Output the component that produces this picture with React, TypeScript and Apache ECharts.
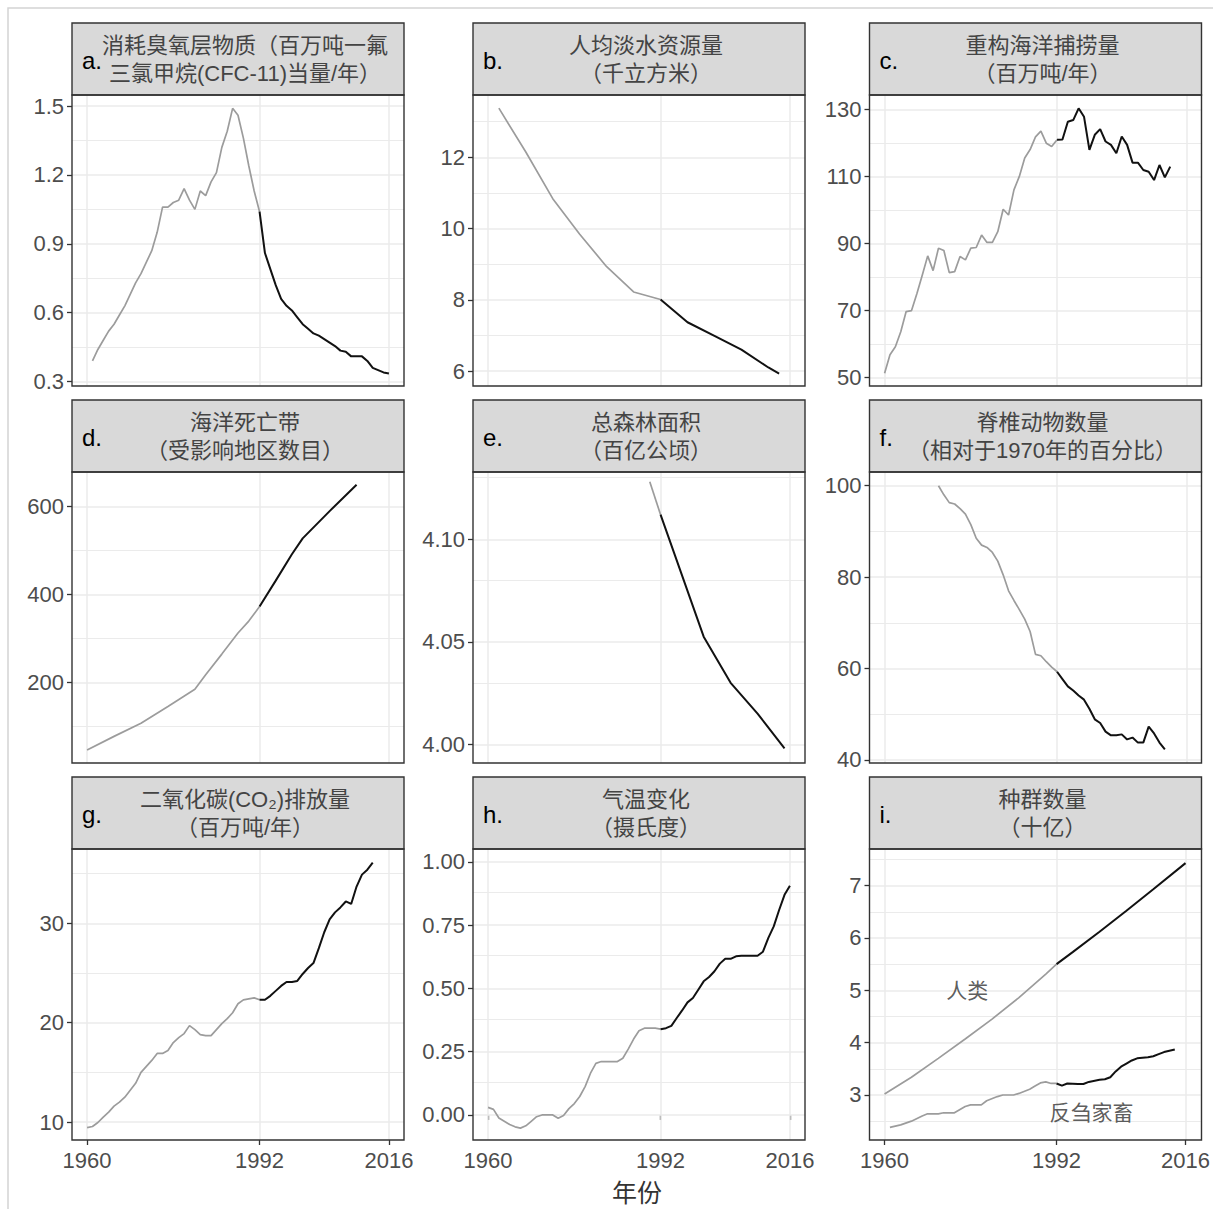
import React, { useEffect, useRef } from "react";
import * as echarts from "echarts";

const yearsFrom = (start: number, count: number): number[] =>
  Array.from({ length: count }, (_, i) => start + i);

// ---------------- data ----------------
// a. ozone depleting substances
const ozoneYears = yearsFrom(1961, 56);
const ozoneValues = [
  0.39, 0.44, 0.48, 0.52, 0.55, 0.59, 0.63, 0.68, 0.73, 0.77,
  0.82, 0.87, 0.95, 1.06, 1.06, 1.08, 1.09, 1.14, 1.09, 1.05,
  1.13, 1.11, 1.17, 1.21, 1.32, 1.39, 1.49, 1.46, 1.36, 1.24,
  1.13, 1.04, 0.86, 0.79, 0.72, 0.66, 0.63, 0.61, 0.58, 0.55,
  0.53, 0.51, 0.5, 0.485, 0.47, 0.455, 0.435, 0.43, 0.41, 0.41,
  0.41, 0.39, 0.36, 0.35, 0.34, 0.335,
];
// b. freshwater per capita
const waterYears = [1962, 1967, 1972, 1977, 1982, 1987, 1992, 1997, 2002, 2007, 2012, 2014];
const waterValues = [13.38, 12.15, 10.84, 9.84, 8.93, 8.22, 8.01, 7.37, 6.99, 6.6, 6.1, 5.93];
// c. reconstructed marine catch
const catchYears = yearsFrom(1960, 54);
const catchValues = [
  51.3, 56.8, 59.2, 63.7, 69.7, 70, 75.1, 80.6, 86.3, 81.9,
  88.6, 87.9, 81.3, 81.6, 86.1, 85.1, 88.6, 88.8, 92.5, 90.3,
  90.3, 93.5, 100.2, 98.5, 106, 110, 115.5, 118, 121.8, 123.5,
  119.9, 118.9, 120.9, 121, 126.3, 126.8, 130.3, 127.8, 117.9, 122.4,
  124.1, 120.4, 119.4, 116.9, 121.9, 119.4, 114.1, 114.1, 111.9, 111.4,
  108.9, 113.4, 109.7, 112.9,
];
// d. ocean dead zones
const deadYears = [1960, 1965, 1970, 1975, 1980, 1982, 1985, 1988, 1990, 1992, 1995, 1998, 2000, 2005, 2010];
const deadValues = [47, 78, 108, 146, 185, 218, 265, 313, 340, 373, 432, 492, 528, 590, 650];
// e. total forest area
const forestYears = [1990, 1992, 2000, 2005, 2010, 2015];
const forestValues = [4.128, 4.112, 4.0525, 4.03, 4.015, 3.998];
// f. vertebrate abundance
const vertYears = yearsFrom(1970, 43);
const vertValues = [
  100, 98, 96.3, 96, 95, 93.8, 91.5, 88.5, 87, 86.5,
  85.4, 83.5, 80.5, 77, 74.9, 72.9, 70.8, 68.1, 63.1, 62.8,
  61.5, 60.3, 59.3, 57.7, 56.1, 55.2, 54.1, 53.2, 51.2, 48.9,
  48.1, 46.2, 45.4, 45.4, 45.6, 44.5, 44.9, 43.8, 43.8, 47.3,
  45.8, 43.8, 42.3,
];
// g. CO2 emissions
const co2Years = yearsFrom(1960, 54);
const co2Values = [
  9.43, 9.55, 9.95, 10.5, 11.0, 11.6, 12.0, 12.5, 13.2, 13.9,
  15.0, 15.6, 16.2, 16.9, 16.9, 17.2, 18.0, 18.5, 18.9, 19.7,
  19.3, 18.8, 18.7, 18.7, 19.3, 19.9, 20.4, 21.0, 21.9, 22.3,
  22.4, 22.5, 22.3, 22.3, 22.7, 23.2, 23.7, 24.1, 24.1, 24.2,
  24.9, 25.5, 26.0, 27.5, 29.1, 30.4, 31.1, 31.6, 32.2, 31.95,
  33.7, 34.9, 35.4, 36.1,
];
// h. temperature change
const tempYears = yearsFrom(1960, 57);
const tempValues = [
  0.03, 0.022, -0.012, -0.025, -0.038, -0.047, -0.052, -0.043, -0.025, -0.007,
  0.0, 0.0, 0.0, -0.013, -0.002, 0.025, 0.045, 0.073, 0.112, 0.165,
  0.204, 0.211, 0.211, 0.211, 0.211, 0.224, 0.26, 0.3, 0.333, 0.343,
  0.343, 0.343, 0.339, 0.343, 0.352, 0.383, 0.413, 0.445, 0.462, 0.495,
  0.528, 0.545, 0.568, 0.598, 0.617, 0.617, 0.627, 0.629, 0.629, 0.629,
  0.629, 0.645, 0.7, 0.745, 0.81, 0.87, 0.906,
];
// i. population (humans, ruminant livestock)
const humanYears = [1960, 1965, 1970, 1975, 1980, 1985, 1990, 1992, 1995, 2000, 2005, 2010, 2016];
const humanValues = [3.02, 3.34, 3.7, 4.07, 4.45, 4.86, 5.31, 5.5, 5.73, 6.12, 6.52, 6.93, 7.43];
const livestockYears = [
  1961, 1963, 1965, 1967, 1968, 1970, 1971, 1973, 1975, 1976,
  1978, 1979, 1981, 1982, 1984, 1985, 1987, 1988, 1989, 1990,
  1991, 1992, 1993, 1994, 1996, 1997, 1998, 2000, 2001, 2002,
  2003, 2004, 2005, 2006, 2007, 2009, 2010, 2011, 2012, 2014,
];
const livestockValues = [
  2.38, 2.43, 2.5, 2.6, 2.64, 2.64, 2.66, 2.66, 2.78, 2.81,
  2.81, 2.89, 2.97, 3.0, 3.0, 3.03, 3.11, 3.17, 3.23, 3.25,
  3.22, 3.22, 3.18, 3.22, 3.21, 3.21, 3.25, 3.29, 3.3, 3.34,
  3.45, 3.54, 3.6, 3.66, 3.7, 3.72, 3.74, 3.78, 3.82, 3.87,
];
const popLabelTexts = ["人类", "反刍家畜"];
const popLabelX = [1975.4, 1998.5];
const popLabelY = [5.0, 2.66];

// ---------------- panel text & ticks ----------------
const panelLetters = ["a.", "b.", "c.", "d.", "e.", "f.", "g.", "h.", "i."];
const titleLine1 = [
  "消耗臭氧层物质（百万吨一氟",
  "人均淡水资源量",
  "重构海洋捕捞量",
  "海洋死亡带",
  "总森林面积",
  "脊椎动物数量",
  "二氧化碳(CO₂)排放量",
  "气温变化",
  "种群数量",
];
const titleLine2 = [
  "三氯甲烷(CFC-11)当量/年）",
  "（千立方米）",
  "（百万吨/年）",
  "（受影响地区数目）",
  "（百亿公顷）",
  "（相对于1970年的百分比）",
  "（百万吨/年）",
  "（摄氏度）",
  "（十亿）",
];
const xAxisTitle = "年份";
const xTicks = [1960, 1992, 2016];
const xLimits = [1957.2, 2018.8];
const breakYear = 1992;
const yTicks = [
  [0.3, 0.6, 0.9, 1.2, 1.5],
  [6, 8, 10, 12],
  [50, 70, 90, 110, 130],
  [200, 400, 600],
  [4.0, 4.05, 4.1],
  [40, 60, 80, 100],
  [10, 20, 30],
  [0, 0.25, 0.5, 0.75, 1.0],
  [3, 4, 5, 6, 7],
];
const yMinor = [
  [0.45, 0.75, 1.05, 1.35],
  [7, 9, 11, 13],
  [60, 80, 100, 120],
  [100, 300, 500],
  [4.025, 4.075, 4.125],
  [50, 70, 90],
  [15, 25, 35],
  [0.125, 0.375, 0.625, 0.875],
  [2.5, 3.5, 4.5, 5.5, 6.5, 7.5],
];
const yDecimals = [1, 0, 0, 0, 2, 0, 0, 2, 0];
const yLimits = [
  [0.281, 1.548],
  [5.58, 13.75],
  [47.5, 134.27],
  [17.5, 678.9],
  [3.9909, 4.1328],
  [39.34, 103.0],
  [8.19, 37.48],
  [-0.099, 1.051],
  [2.14, 7.7],
];

const panelSeries: { years: number[]; values: number[] }[][] = [
  [{ years: ozoneYears, values: ozoneValues }],
  [{ years: waterYears, values: waterValues }],
  [{ years: catchYears, values: catchValues }],
  [{ years: deadYears, values: deadValues }],
  [{ years: forestYears, values: forestValues }],
  [{ years: vertYears, values: vertValues }],
  [{ years: co2Years, values: co2Values }],
  [{ years: tempYears, values: tempValues }],
  [
    { years: humanYears, values: humanValues },
    { years: livestockYears, values: livestockValues },
  ],
];

// ---------------- layout ----------------
const W = 1213;
const H = 1209;
const colLeft = [72, 473, 869.5];
const colWidth = 332;
const rowTop = [95, 472, 849];
const plotH = 291;
const stripH = 72;

const LATIN = "'Liberation Sans', Arial, sans-serif";
const CJK = "'Liberation Sans', 'Noto Sans CJK SC', sans-serif";
const GRAY = "#9c9c9c";
const BLACK = "#111111";
const GRID = "#ebebeb";
const DARK = "#333333";

function buildOption() {
  const grids: any[] = [];
  const xAxes: any[] = [];
  const yAxes: any[] = [];
  const series: any[] = [];
  const graphics: any[] = [];

  graphics.push({
    type: "rect",
    silent: true,
    z: 0,
    shape: { x: 8, y: 8, width: 1300, height: 1300 },
    style: { fill: "none", stroke: "#d4d4d4", lineWidth: 1.5 },
  });

  for (let k = 0; k < 9; k++) {
    const col = k % 3;
    const row = Math.floor(k / 3);
    const left = colLeft[col];
    const top = rowTop[row];
    const bottomRow = row === 2;
    const dec = yDecimals[k];

    grids.push({ left, top, width: colWidth, height: plotH, containLabel: false });

    xAxes.push({
      type: "value",
      gridIndex: k,
      min: xLimits[0],
      max: xLimits[1],
      axisLine: { show: false },
      splitLine: { show: false },
      axisTick: {
        show: bottomRow,
        customValues: xTicks,
        length: 5,
        lineStyle: { color: DARK, width: 1.3 },
      },
      axisLabel: {
        show: bottomRow,
        customValues: xTicks,
        margin: 9,
        fontSize: 22,
        color: "#4d4d4d",
        fontFamily: LATIN,
        formatter: (v: number) => String(Math.round(v)),
      },
    });

    yAxes.push({
      type: "value",
      gridIndex: k,
      min: yLimits[k][0],
      max: yLimits[k][1],
      axisLine: { show: false },
      splitLine: { show: false },
      axisTick: {
        show: true,
        customValues: yTicks[k],
        length: 5,
        lineStyle: { color: DARK, width: 1.3 },
      },
      axisLabel: {
        customValues: yTicks[k],
        margin: 8,
        fontSize: 22,
        color: "#4d4d4d",
        fontFamily: LATIN,
        formatter: (v: number) => v.toFixed(dec),
      },
    });

    // grid lines through the axis scales
    const gridLines: any[] = [];
    yMinor[k].forEach((v) => gridLines.push({ yAxis: v, lineStyle: { width: 1, color: GRID } }));
    yTicks[k].forEach((v) => gridLines.push({ yAxis: v, lineStyle: { width: 1.5, color: GRID } }));
    xTicks.forEach((v) => gridLines.push({ xAxis: v, lineStyle: { width: 1.5, color: GRID } }));
    series.push({
      type: "line",
      xAxisIndex: k,
      yAxisIndex: k,
      data: [],
      z: 1,
      silent: true,
      markLine: {
        silent: true,
        z: 1,
        symbol: ["none", "none"],
        label: { show: false },
        animation: false,
        lineStyle: { type: "solid", color: GRID },
        data: gridLines,
      },
    });

    panelSeries[k].forEach((s) => {
      const before: number[][] = [];
      const after: number[][] = [];
      s.years.forEach((y, i) => {
        if (y <= breakYear) before.push([y, s.values[i]]);
        if (y >= breakYear) after.push([y, s.values[i]]);
      });
      series.push({
        type: "line",
        xAxisIndex: k,
        yAxisIndex: k,
        data: before,
        showSymbol: false,
        symbol: "none",
        silent: true,
        z: 6,
        lineStyle: { color: GRAY, width: 1.7 },
        itemStyle: { color: GRAY },
      });
      series.push({
        type: "line",
        xAxisIndex: k,
        yAxisIndex: k,
        data: after,
        showSymbol: false,
        symbol: "none",
        silent: true,
        z: 7,
        lineStyle: { color: BLACK, width: 2 },
        itemStyle: { color: BLACK },
      });
    });

    if (k === 8) {
      series.push({
        type: "scatter",
        xAxisIndex: k,
        yAxisIndex: k,
        symbolSize: 0,
        silent: true,
        z: 8,
        data: popLabelTexts.map((t, i) => ({ name: t, value: [popLabelX[i], popLabelY[i]] })),
        label: {
          show: true,
          position: "inside",
          formatter: "{b}",
          fontSize: 21,
          color: "#333333",
          fontFamily: CJK,
        },
      });
    }

    // strip
    const stripTop = top - stripH;
    graphics.push({
      type: "rect",
      silent: true,
      z: 10,
      shape: { x: left, y: stripTop, width: colWidth, height: stripH },
      style: { fill: "#d9d9d9", stroke: DARK, lineWidth: 1.4 },
    });
    // panel border
    graphics.push({
      type: "rect",
      silent: true,
      z: 100,
      shape: { x: left, y: top, width: colWidth, height: plotH },
      style: { fill: "none", stroke: DARK, lineWidth: 1.4 },
    });
    const cx = left + colWidth / 2 + 7;
    graphics.push({
      type: "text",
      silent: true,
      z: 11,
      x: cx,
      y: stripTop + 22.5,
      style: {
        text: titleLine1[k],
        fontSize: 22,
        fontFamily: CJK,
        fill: "#444444",
        align: "center",
        verticalAlign: "middle",
      },
    });
    graphics.push({
      type: "text",
      silent: true,
      z: 11,
      x: cx,
      y: stripTop + 50,
      style: {
        text: titleLine2[k],
        fontSize: 22,
        fontFamily: CJK,
        fill: "#444444",
        align: "center",
        verticalAlign: "middle",
      },
    });
    graphics.push({
      type: "text",
      silent: true,
      z: 12,
      x: left + 10,
      y: stripTop + 37,
      style: {
        text: panelLetters[k],
        fontSize: 24,
        fontFamily: LATIN,
        fill: "#000000",
        align: "left",
        verticalAlign: "middle",
      },
    });
  }

  graphics.push({
    type: "text",
    silent: true,
    z: 12,
    x: 637,
    y: 1193,
    style: {
      text: xAxisTitle,
      fontSize: 25,
      fontFamily: CJK,
      fill: "#333333",
      align: "center",
      verticalAlign: "middle",
    },
  });

  return {
    animation: false,
    backgroundColor: "#ffffff",
    grid: grids,
    xAxis: xAxes,
    yAxis: yAxes,
    series,
    graphic: { elements: graphics },
  };
}

export default function App() {
  const ref = useRef<HTMLDivElement>(null);
  useEffect(() => {
    if (!ref.current) return;
    const chart = echarts.init(ref.current, undefined, { renderer: "svg" });
    chart.setOption(buildOption() as any);
    return () => chart.dispose();
  }, []);
  return (
    <div
      ref={ref}
      style={{ position: "absolute", left: 0, top: 0, width: W, height: H }}
    />
  );
}
